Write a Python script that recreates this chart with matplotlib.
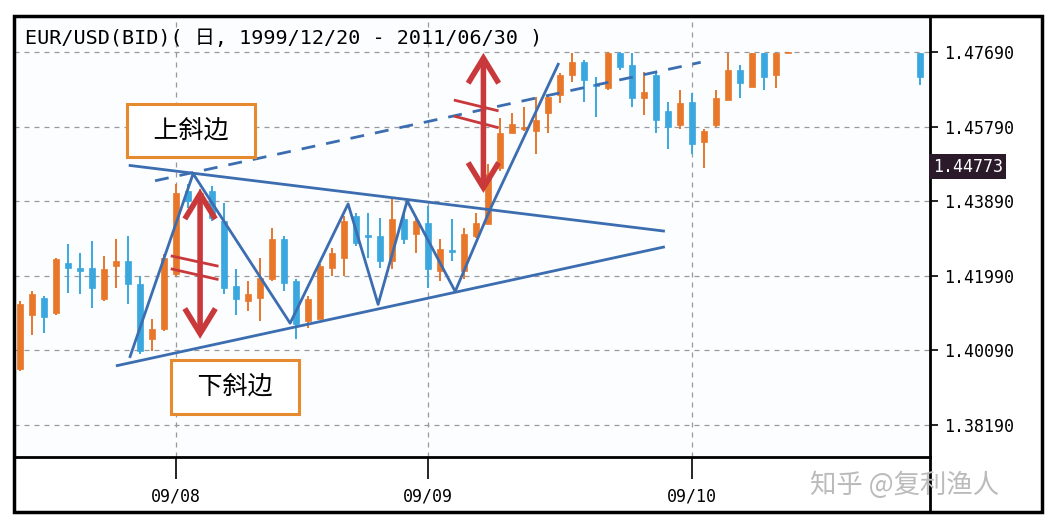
import matplotlib
matplotlib.use("Agg")
import matplotlib.pyplot as plt
from matplotlib.patches import Rectangle, FancyArrowPatch
from matplotlib.lines import Line2D

plt.rcParams['font.family'] = ['Noto Sans CJK SC', 'DejaVu Sans']

idx = list(range(65)) + [75]
opens = [1.3962,1.4100,1.4141,1.4103,1.4231,1.4218,1.4218,1.4139,1.4224,1.4236,
         1.4177,1.4037,1.4062,1.4203,1.4416,1.4400,1.4416,1.4339,1.4172,1.4134,
         1.4141,1.4190,1.4293,1.4185,1.4083,1.4090,1.4218,1.4244,1.4351,1.4303,
         1.4300,1.4236,1.4344,1.4305,1.4334,1.4211,1.4264,1.4211,1.4300,1.4331,
         1.4474,1.4564,1.4574,1.4569,1.4613,1.4659,1.4710,1.4743,1.4687,1.4677,
         1.4766,1.4736,1.4651,1.4710,1.4620,1.4582,1.4641,1.4539,1.4582,1.4646,
         1.4723,1.4679,1.4766,1.4710,1.4766,1.4766]
highs = [1.4134,1.4159,1.4147,1.4244,1.4280,1.4257,1.4288,1.4249,1.4293,1.4300,
         1.4198,1.4090,1.4254,1.4434,1.4434,1.4421,1.4428,1.4385,1.4216,1.4185,
         1.4244,1.4321,1.4300,1.4190,1.4147,1.4229,1.4270,1.4351,1.4359,1.4359,
         1.4346,1.4400,1.4357,1.4351,1.4377,1.4293,1.4344,1.4321,1.4359,1.4485,
         1.4600,1.4613,1.4628,1.4654,1.4659,1.4715,1.4766,1.4749,1.4705,1.4769,
         1.4769,1.4766,1.4718,1.4715,1.4641,1.4672,1.4664,1.4574,1.4672,1.4766,
         1.4736,1.4766,1.4766,1.4766,1.4769,1.4766]
lows = [1.3955,1.4049,1.4052,1.4100,1.4154,1.4152,1.4116,1.4134,1.4167,1.4126,
        1.4000,1.4006,1.4057,1.4198,1.4372,1.4390,1.4339,1.4152,1.4100,1.4108,
        1.4083,1.4185,1.4159,1.4039,1.4065,1.4088,1.4198,1.4198,1.4275,1.4244,
        1.4218,1.4216,1.4280,1.4257,1.4167,1.4185,1.4236,1.4190,1.4295,1.4331,
        1.4467,1.4562,1.4569,1.4510,1.4562,1.4638,1.4692,1.4641,1.4603,1.4672,
        1.4723,1.4628,1.4608,1.4562,1.4523,1.4574,1.4510,1.4474,1.4577,1.4646,
        1.4651,1.4679,1.4672,1.4677,1.4766,1.4685]
closes = [1.4126,1.4152,1.4095,1.4241,1.4218,1.4211,1.4167,1.4216,1.4236,1.4177,
          1.4006,1.4062,1.4244,1.4410,1.4390,1.4410,1.4346,1.4167,1.4139,1.4152,
          1.4193,1.4293,1.4180,1.4075,1.4139,1.4224,1.4257,1.4339,1.4282,1.4298,
          1.4236,1.4344,1.4293,1.4339,1.4216,1.4267,1.4259,1.4305,1.4334,1.4459,
          1.4564,1.4587,1.4579,1.4595,1.4654,1.4710,1.4743,1.4697,1.4682,1.4766,
          1.4730,1.4651,1.4667,1.4595,1.4577,1.4638,1.4536,1.4569,1.4651,1.4723,
          1.4690,1.4766,1.4705,1.4766,1.4769,1.4705]

yticks = [1.38190, 1.40090, 1.41990, 1.43890, 1.45790, 1.47690]
xtick_pos = [13, 34, 56]
xtick_labels = ["09/08", "09/09", "09/10"]
last_price = 1.44773

upper_line = ([9.17, 53.6], [1.4480, 1.4313])
lower_line = ([8.1, 53.6], [1.3970, 1.4272])
dash_line = ([11.25, 56.7], [1.4441, 1.4743])
zig_x = [9.17, 14.42, 22.5, 27.33, 29.83, 32.25, 36.25, 39.17, 44.83]
zig_y = [1.3993, 1.4459, 1.4078, 1.4382, 1.4126, 1.4390, 1.4159, 1.4369, 1.4738]

UP = '#E8772A'
DN = '#3AA8DE'
LINE = '#3B6DB0'
RED = '#C9393B'

W, H = 1056, 530
fig = plt.figure(figsize=(W/100, H/100), dpi=100)
fig.patch.set_facecolor('white')
L, R, T, B = 14, 930, 16, 457
ax = fig.add_axes([L/W, 1-B/H, (R-L)/W, (B-T)/H])
ax.set_facecolor('#FBFDFE')
ax.set_xlim(-0.5, 75.8)
ax.set_ylim(1.3737, 1.4861)

for i, o, h, l, c in zip(idx, opens, highs, lows, closes):
    col = UP if c >= o else DN
    ax.vlines(i, l, h, color=col, lw=1.4, zorder=3)
    lo, hi = min(o, c), max(o, c)
    ax.add_patch(Rectangle((i-0.25, lo), 0.5, max(hi-lo, 0.00025),
                           facecolor=col, edgecolor=col, lw=0.5, zorder=3))

for y in yticks:
    ax.axhline(y, color='#999999', lw=0.9, ls=(0, (4, 4)), zorder=1)
for x in xtick_pos:
    ax.axvline(x, color='#999999', lw=0.9, ls=(0, (4, 4)), zorder=1)

ax.plot(*upper_line, color=LINE, lw=2, zorder=4)
ax.plot(*lower_line, color=LINE, lw=2, zorder=4)
ax.plot(*dash_line, color=LINE, lw=2, ls=(0, (5, 4)), zorder=4)
ax.plot(zig_x, zig_y, color=LINE, lw=2, zorder=4)

for x, y0, y1 in [(15, 1.4031, 1.4428), (38.6, 1.4403, 1.4774)]:
    ax.add_patch(FancyArrowPatch((x, y0), (x, y1), arrowstyle='<->,head_length=0.9,head_width=0.55',
                                 color=RED, lw=4, mutation_scale=20, zorder=5,
                                 capstyle='butt', joinstyle='miter'))
for xs, ys in [([12.67, 16.42], [1.4249, 1.4224]), ([12.67, 16.42], [1.4216, 1.4190]),
               ([36.25, 39.75], [1.4646, 1.4620]), ([36.25, 39.75], [1.4605, 1.4577])]:
    ax.plot(xs, ys, color=RED, lw=2, zorder=5)

box = dict(boxstyle='square,pad=0.55', facecolor='white', edgecolor='#E58A2E', lw=2.2)
ax.text(14.25, 1.4569, "\u2002上斜边\u2002", fontsize=18, ha='center', va='center', bbox=box, zorder=6,
        family=['Noto Sans CJK SC', 'DejaVu Sans'])
ax.text(17.9, 1.3916, "\u2002下斜边\u2002", fontsize=18, ha='center', va='center', bbox=box, zorder=6,
        family=['Noto Sans CJK SC', 'DejaVu Sans'])

ax.text(0.012, 0.97, "EUR/USD(BID)( 日, 1999/12/20 - 2011/06/30 )", transform=ax.transAxes,
        fontsize=14.5, va='top', ha='left', family=['DejaVu Sans Mono', 'Noto Sans CJK SC'], zorder=6)

ax.yaxis.tick_right()
ax.set_yticks(yticks)
ax.set_yticklabels([f"{v:.5f}" for v in yticks], fontsize=12, family='DejaVu Sans Mono')
ax.tick_params(axis='y', length=6, width=1.2, pad=4)
ax.set_xticks(xtick_pos)
ax.set_xticklabels(xtick_labels, fontsize=12, family='DejaVu Sans Mono')
ax.tick_params(axis='x', length=16, width=1.2, pad=6, direction='out')
for s in ax.spines.values():
    s.set_linewidth(2)

ax.text(1.003, (last_price-1.3737)/(1.4861-1.3737), f"{last_price:.5f}", transform=ax.transAxes,
        fontsize=12, family='DejaVu Sans Mono', color='white', va='center', ha='left',
        bbox=dict(boxstyle='square,pad=0.2', facecolor='#2A1A2A', edgecolor='none'))

fig.add_artist(Rectangle((L/W, 1-512/H), (1042-L)/W, (512-T)/H, transform=fig.transFigure,
                         fill=False, edgecolor='black', lw=2.5))
fig.add_artist(Line2D([R/W, R/W], [1-512/H, 1-B/H], transform=fig.transFigure, color='black', lw=2))
fig.text(905/W, 1-485/H, "知乎 @复利渔人", fontsize=19, color='#BBBBBB', ha='center', va='center')

fig.savefig("out.png", dpi=100)
